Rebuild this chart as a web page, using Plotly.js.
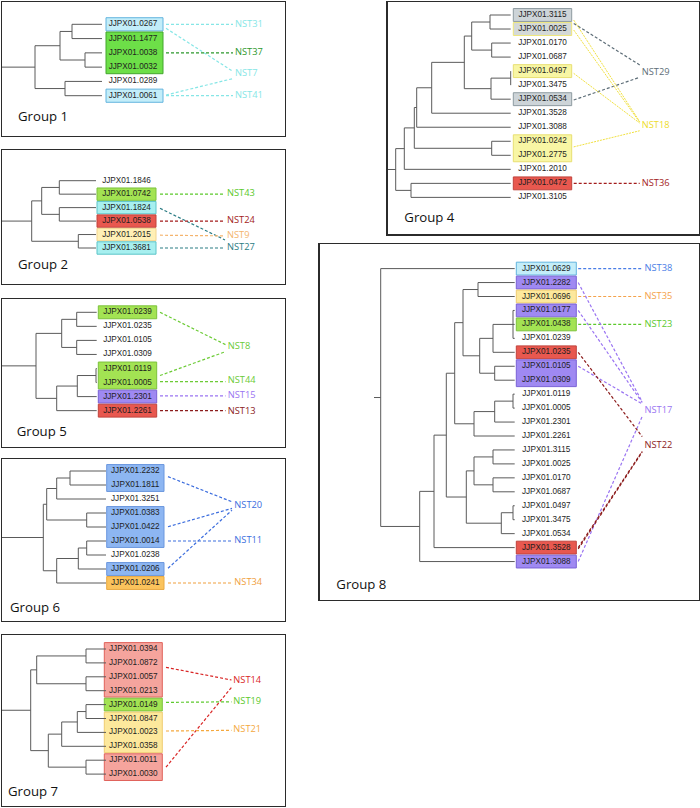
<!DOCTYPE html>
<html><head><meta charset="utf-8">
<script src="https://cdn.plot.ly/plotly-3.0.1.min.js"></script>
<style>html,body{margin:0;padding:0;background:#fff}#chart{width:700px;height:808px}</style>
</head><body><div id="chart"></div>
<script>
// ---------------- DATA ----------------
// Tree format: [nodeDepth, child, child, ...]; a child is a leaf index or a nested node.
// Links: [fromRow, toRow, nstIndex]; Boxes: [firstLeaf, lastLeaf, colourKey]

// Group 1
const g1Leaves = ["JJPX01.0267","JJPX01.1477","JJPX01.0038","JJPX01.0032","JJPX01.0289","JJPX01.0061"];
const g1Tree = [33, [58, [70, 0, 1], [83, 2, 3]], [63, 4, 5]];
const g1Boxes = [[0, 0, "sky"], [1, 3, "green"], [5, 5, "sky"]];
const g1Nst = ["NST31", "NST37", "NST7", "NST41"];
const g1NstRow = [0, 2, 3.44, 5];
const g1NstColor = ["#86e6e6", "#2c982c", "#86e6e6", "#86e6e6"];
const g1Links = [[0, 0, 0], [0.28, 3.3, 2], [2, 2, 1], [4.95, 3.8, 2], [5, 5, 3]];

// Group 2
const g2Leaves = ["JJPX01.1846","JJPX01.0742","JJPX01.1824","JJPX01.0538","JJPX01.2015","JJPX01.3681"];
const g2Tree = [29.7, [39.7, [57.3, 0, 1], [57.3, 2, 3]], [76.3, 4, 5]];
const g2Boxes = [[1, 1, "lime"], [2, 2, "aqua"], [3, 3, "red"], [4, 4, "cream"], [5, 5, "aqua"]];
const g2Nst = ["NST43", "NST24", "NST9", "NST27"];
const g2NstRow = [1, 3, 4.1, 5];
const g2NstColor = ["#5cc92c", "#a31c1c", "#f4b46e", "#2b7c84"];
const g2Links = [[1, 1, 0], [2.05, 4.4, 3], [3, 3, 1], [4.05, 4.1, 2], [5, 5, 3]];

// Group 5
const g5Leaves = ["JJPX01.0239","JJPX01.0235","JJPX01.0105","JJPX01.0309","JJPX01.0119","JJPX01.0005","JJPX01.2301","JJPX01.2261"];
const g5Tree = [34, [59.7, [74.7, 0, 1], [74.7, 2, 3]], [54.7, [75.3, [94, 4, 5], 6], 7]];
const g5Boxes = [[0, 0, "lime"], [4, 5, "lime"], [6, 6, "purple"], [7, 7, "red"]];
const g5Nst = ["NST8", "NST44", "NST15", "NST13"];
const g5NstRow = [2.42, 4.9, 5.95, 7.05];
const g5NstColor = ["#6ccb36", "#6ccb36", "#9a74f2", "#8c1c1c"];
const g5Links = [[0, 2.3, 0], [4.5, 2.8, 0], [4.93, 4.93, 1], [5.95, 5.95, 2], [7, 7, 3]];

// Group 6
const g6Leaves = ["JJPX01.2232","JJPX01.1811","JJPX01.3251","JJPX01.0383","JJPX01.0422","JJPX01.0014","JJPX01.0238","JJPX01.0206","JJPX01.0241"];
const g6Tree = [41.3, [44.7, [54.7, [68, 0, 1], 2], [84.7, 3, 4]], [54.7, [76.3, [84.7, 5, 6], 7], 8]];
const g6Boxes = [[0, 1, "blue"], [3, 5, "blue"], [7, 7, "blue"], [8, 8, "orange"]];
const g6Nst = ["NST20", "NST11", "NST34"];
const g6NstRow = [2.48, 4.98, 7.98];
const g6NstColor = ["#3d6ede", "#3d6ede", "#efa03e"];
const g6Links = [[0.4, 2.2, 0], [3.98, 2.67, 0], [6.95, 2.8, 0], [5, 5, 1], [8, 8, 2]];

// Group 7
const g7Leaves = ["JJPX01.0394","JJPX01.0872","JJPX01.0057","JJPX01.0213","JJPX01.0149","JJPX01.0847","JJPX01.0023","JJPX01.0358","JJPX01.0011","JJPX01.0030"];
const g7Tree = [28.7, [34.7, [84, 0, 1], [84, 2, 3]], [46.3, [59.7, [75.3, [84, 4, 5], 6], 7], [84, 8, 9]]];
const g7Boxes = [[0, 3, "pink"], [4, 4, "lime"], [5, 7, "yellow"], [8, 9, "pink"]];
const g7Nst = ["NST14", "NST19", "NST21"];
const g7NstRow = [2.28, 3.8, 5.83];
const g7NstColor = ["#d92626", "#5cc92c", "#f4a83e"];
const g7Links = [[1.32, 2.23, 0], [8.5, 2.76, 0], [3.84, 3.8, 1], [5.9, 5.85, 2]];

// Group 4
const g4Leaves = ["JJPX01.3115","JJPX01.0025","JJPX01.0170","JJPX01.0687","JJPX01.0497","JJPX01.3475","JJPX01.0534","JJPX01.3528","JJPX01.3088","JJPX01.0242","JJPX01.2775","JJPX01.2010","JJPX01.0472","JJPX01.3105"];
const g4Tree = [8, [16.6, [26.6, [29, [44, [76.6, [84, [102.3, 0, 1], [104, 2, 3]], [103.3, [123, 4, 5], 6]], 7], 8], [104, 9, 10]], 11], [23.3, 12, 13]];
const g4Boxes = [[0, 0, "grey"], [1, 1, "greyYellow"], [4, 4, "paleYellow"], [6, 6, "grey"], [9, 10, "paleYellow"], [12, 12, "red"]];
const g4Nst = ["NST29", "NST18", "NST36"];
const g4NstRow = [4.1, 7.9, 12];
const g4NstColor = ["#5d6d77", "#eedd2a", "#a31c1c"];
const g4Links = [[0.6, 3.56, 0], [6.06, 4.44, 0], [0.36, 7.6, 1], [1.07, 7.65, 1], [4.16, 7.7, 1], [9.4, 8.25, 1], [12, 12, 2]];

// Group 8
const g8Leaves = ["JJPX01.0629","JJPX01.2282","JJPX01.0696","JJPX01.0177","JJPX01.0438","JJPX01.0239","JJPX01.0235","JJPX01.0105","JJPX01.0309","JJPX01.0119","JJPX01.0005","JJPX01.2301","JJPX01.2261","JJPX01.3115","JJPX01.0025","JJPX01.0170","JJPX01.0687","JJPX01.0497","JJPX01.3475","JJPX01.0534","JJPX01.3528","JJPX01.3088"];
const g8Tree = [61, 0, [100, [114.3, [126.6, [135, [143.3, [158.3, 1, 2], [160, [173.3, [193.3, 3, 4, 5], 6], [175, 7, 8]]], [154.3, [175, [193.3, 9, 10], 11], 12]], [146.6, [154.3, [173.3, 13, 14], [173.3, 15, 16]], [181.6, [193.3, 17, 18], 19]]], 20], 21]];
const g8Boxes = [[0, 0, "sky"], [1, 1, "purple"], [2, 2, "yellow"], [3, 3, "purple"], [4, 4, "lime"], [6, 6, "red"], [7, 8, "purple"], [20, 20, "red"], [21, 21, "purple"]];
const g8Nst = ["NST38", "NST35", "NST23", "NST17", "NST22"];
const g8NstRow = [0, 2, 4, 10.2, 12.7];
const g8NstColor = ["#4a7de6", "#f4a24a", "#5cc92c", "#9a74f2", "#8c1c1c"];
const g8Links = [[0, 0, 0], [2, 2, 1], [4, 4, 2], [1, 9.55, 3], [3, 9.6, 3], [7, 9.7, 3], [21, 10.6, 3], [6, 12.05, 4], [20, 13.1, 4], [20.1, 13.15, 4]];

const groupNames = ["Group 1", "Group 2", "Group 5", "Group 6", "Group 7", "Group 4", "Group 8"];

// box colours: [fill, border]
const boxColours = {
  sky: ["#c3edf9", "#62b4de"],
  aqua: ["#a7efef", "#5cc4c8"],
  green: ["#6ddf48", "#43a62c"],
  lime: ["#a3e353", "#7cc23c"],
  red: ["#e8584f", "#c0433c"],
  cream: ["#fff0b6", "#f2d48e"],
  purple: ["#9f89f2", "#7a62d6"],
  blue: ["#8db6f2", "#6b97de"],
  orange: ["#fbc35c", "#e8a842"],
  pink: ["#f5a49d", "#e0625b"],
  yellow: ["#fde89c", "#efcc72"],
  grey: ["#cdd4d8", "#8e9ba1"],
  greyYellow: ["#d4d9d8", "#eee67a"],
  paleYellow: ["#f8f6a4", "#e8df72"]
};

// ---------------- LAYOUT GEOMETRY ----------------
const W = 700, H = 808;
const panels = [
  {leaves: g1Leaves, tree: g1Tree, boxes: g1Boxes, nst: g1Nst, nstRow: g1NstRow, nstColor: g1NstColor, links: g1Links,
   frame: [2, 2, 285, 136], row0: 24.3, step: 14.28, stub: 0, tip: 100, label: 131, boxL: 104, boxR: 161, nstX: 233, linkFrom: 164, linkTo: 231, gx: 16, gRow: 6.56},
  {leaves: g2Leaves, tree: g2Tree, boxes: g2Boxes, nst: g2Nst, nstRow: g2NstRow, nstColor: g2NstColor, links: g2Links,
   frame: [2, 150, 285, 284], row0: 180.7, step: 13.46, stub: 0, tip: 94, label: 124.5, boxL: 95, boxR: 154, nstX: 225, linkFrom: 158, linkTo: 223, gx: 16, gRow: 6.34},
  {leaves: g5Leaves, tree: g5Tree, boxes: g5Boxes, nst: g5Nst, nstRow: g5NstRow, nstColor: g5NstColor, links: g5Links,
   frame: [2, 299, 285, 447], row0: 312.3, step: 14.05, stub: 0, tip: 94.7, label: 125.5, boxL: 96.3, boxR: 154.7, nstX: 225.7, linkFrom: 158, linkTo: 223.5, gx: 14.7, gRow: 8.6},
  {leaves: g6Leaves, tree: g6Tree, boxes: g6Boxes, nst: g6Nst, nstRow: g6NstRow, nstColor: g6NstColor, links: g6Links,
   frame: [2, 459, 285, 621], row0: 471, step: 14, stub: 0, tip: 104, label: 133.3, boxL: 104.7, boxR: 162, nstX: 232.3, linkFrom: 166, linkTo: 230, gx: 8, gRow: 9.86},
  {leaves: g7Leaves, tree: g7Tree, boxes: g7Boxes, nst: g7Nst, nstRow: g7NstRow, nstColor: g7NstColor, links: g7Links,
   frame: [2, 635, 285, 806], row0: 649, step: 13.9, stub: 0, tip: 104, label: 131.3, boxL: 102.3, boxR: 160.3, nstX: 231.3, linkFrom: 164, linkTo: 229.5, gx: 6, gRow: 10.34},
  {leaves: g4Leaves, tree: g4Tree, boxes: g4Boxes, nst: g4Nst, nstRow: g4NstRow, nstColor: g4NstColor, links: g4Links,
   frame: [387.7, 2, 699, 234.3], row0: 15, step: 14.03, stub: 0, tip: 123, label: 154.8, boxL: 125.6, boxR: 184, nstX: 254, linkFrom: 186, linkTo: 252, gx: 16.6, gRow: 14.54,
   thinNst: [1]},
  {leaves: g8Leaves, tree: g8Tree, boxes: g8Boxes, nst: g8Nst, nstRow: g8NstRow, nstColor: g8NstColor, links: g8Links,
   frame: [319.7, 244, 699, 600], row0: 268.6, step: 13.95, stub: 54.3, tip: 195, label: 226.6, boxL: 196.6, boxR: 256.6, nstX: 324.8, linkFrom: 258.5, linkTo: 322.5, gx: 16.6, gRow: 22.7}
];

const traces = [];
const shapes = [];
const layout = {
  width: W, height: H, margin: {l: 0, r: 0, t: 0, b: 0},
  paper_bgcolor: "#ffffff", plot_bgcolor: "#ffffff", showlegend: false,
  hovermode: false, shapes: shapes
};

function buildTree(node, tip, segs) {
  if (typeof node === "number") return {x: tip, y: node};
  const d = node[0];
  const kids = node.slice(1).map(k => buildTree(k, tip, segs));
  kids.forEach(k => segs.push([d, k.y, k.x, k.y]));
  const ys = kids.map(k => k.y);
  segs.push([d, Math.min(...ys), d, Math.max(...ys)]);
  return {x: d, y: (ys[0] + ys[ys.length - 1]) / 2};
}

panels.forEach((p, i) => {
  const n = i + 1;
  const xa = "x" + (n > 1 ? n : ""), ya = "y" + (n > 1 ? n : "");
  const [x0, y0, x1, y1] = p.frame;
  layout["xaxis" + (n > 1 ? n : "")] = {
    domain: [x0 / W, x1 / W], range: [0, x1 - x0], anchor: ya,
    showgrid: false, zeroline: false, showticklabels: false, ticks: "",
    showline: true, mirror: true, linecolor: "#2b2b2b", linewidth: 1.3, fixedrange: true
  };
  layout["yaxis" + (n > 1 ? n : "")] = {
    domain: [1 - y1 / H, 1 - y0 / H], range: [(y1 - p.row0) / p.step, (y0 - p.row0) / p.step], anchor: xa,
    showgrid: false, zeroline: false, showticklabels: false, ticks: "",
    showline: true, mirror: true, linecolor: "#2b2b2b", linewidth: 1.3, fixedrange: true
  };

  // highlight boxes
  p.boxes.forEach(b => {
    const c = boxColours[b[2]];
    shapes.push({type: "rect", xref: xa, yref: ya, layer: "below",
      x0: p.boxL, x1: p.boxR, y0: b[0] - 0.46, y1: b[1] + 0.46,
      fillcolor: c[0], line: {color: c[1], width: 1}});
  });

  // dendrogram
  const segs = [];
  const root = buildTree(p.tree, p.tip, segs);
  segs.push([p.stub, root.y, root.x, root.y]);
  const lx = [], ly = [];
  segs.forEach(s => { lx.push(s[0], s[2], null); ly.push(s[1], s[3], null); });
  traces.push({type: "scatter", mode: "lines", x: lx, y: ly, xaxis: xa, yaxis: ya,
    line: {color: "#5a5a5a", width: 1}, hoverinfo: "skip"});

  // link lines
  p.links.forEach(l => {
    const col = p.nstColor[l[2]];
    const thin = p.thinNst && p.thinNst.includes(l[2]);
    traces.push({type: "scatter", mode: "lines", x: [p.linkFrom, p.linkTo], y: [l[0], l[1]],
      xaxis: xa, yaxis: ya,
      line: thin ? {color: col, width: 0.9, dash: "2px,1px"} : {color: col, width: 1.2, dash: "3px,2px"},
      hoverinfo: "skip"});
  });

  // leaf labels
  traces.push({type: "scatter", mode: "text", x: p.leaves.map(() => p.label), y: p.leaves.map((_, k) => k),
    text: p.leaves, textposition: "middle center", xaxis: xa, yaxis: ya, cliponaxis: false,
    textfont: {family: "Liberation Sans, Arial, sans-serif", size: 8.2, color: "#1e1e1e"}, hoverinfo: "skip"});

  // NST labels
  traces.push({type: "scatter", mode: "text", x: p.nst.map(() => p.nstX), y: p.nstRow,
    text: p.nst, textposition: "middle right", xaxis: xa, yaxis: ya, cliponaxis: false,
    textfont: {family: "Open Sans, sans-serif", size: 9.3, color: p.nstColor}, hoverinfo: "skip"});

  // group label
  traces.push({type: "scatter", mode: "text", x: [p.gx], y: [p.gRow], text: [groupNames[i]],
    textposition: "middle right", xaxis: xa, yaxis: ya, cliponaxis: false,
    textfont: {family: "Open Sans, sans-serif", size: 13.2, color: "#111"}, hoverinfo: "skip"});
});

Plotly.newPlot("chart", traces, layout, {staticPlot: true, displayModeBar: false});
</script>
</body></html>
